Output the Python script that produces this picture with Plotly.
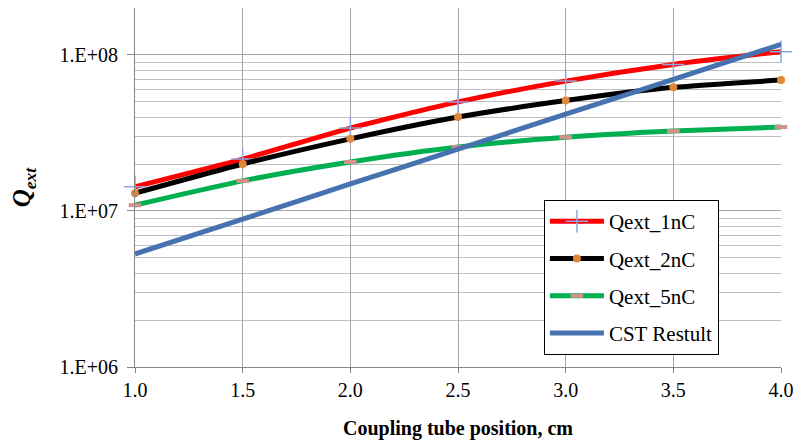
import plotly.graph_objects as go
import numpy as np

x = [1.0, 1.5, 2.0, 2.5, 3.0, 3.5, 4.0]
q1 = [1.43e7, 2.15e7, 3.4e7, 5.0e7, 6.8e7, 8.7e7, 1.05e8]
q2 = [1.3e7, 2.0e7, 2.9e7, 4.0e7, 5.1e7, 6.2e7, 6.9e7]
q5 = [1.09e7, 1.56e7, 2.06e7, 2.57e7, 2.97e7, 3.25e7, 3.45e7]
cst = [5.3e6, 8.87e6, 1.49e7, 2.49e7, 4.17e7, 6.98e7, 1.17e8]
names = ["Qext_1nC", "Qext_2nC", "Qext_5nC", "CST Restult"]
ytickvals = [1e6, 1e7, 1e8]
yticktext = ["1.E+06", "1.E+07", "1.E+08"]

FONT = "Liberation Serif, Times New Roman, serif"
fig = go.Figure()
fig.add_trace(go.Scatter(x=x, y=q1, name=names[0], mode="lines+markers",
                         line=dict(color="#FF0000", width=5, shape="spline", smoothing=0.6),
                         marker=dict(symbol="cross-thin", size=16, line=dict(color="#8EA9DB", width=1.5)),
                         cliponaxis=False, legendgroup="a"))
fig.add_trace(go.Scatter(x=x, y=q2, name=names[1], mode="lines+markers",
                         line=dict(color="#000000", width=5, shape="spline", smoothing=0.6),
                         marker=dict(symbol="circle", size=8, color="#E0883A"), cliponaxis=False, legendgroup="b"))
fig.add_trace(go.Scatter(x=x, y=q5, name=names[2], mode="lines+markers",
                         line=dict(color="#00B050", width=5, shape="spline", smoothing=0.6),
                         marker=dict(symbol="line-ew", size=9, line=dict(color="#D4908D", width=4)),
                         cliponaxis=False, legendgroup="c"))
fig.add_trace(go.Scatter(x=x, y=cst, name=names[3], mode="lines",
                         line=dict(color="#4672B0", width=5, shape="spline", smoothing=0.6),
                         cliponaxis=False, legendgroup="d"))

minor_vals = []
for d in [1e6, 1e7, 1e8]:
    for m in range(2, 10):
        v = m * d
        if v <= 2e8:
            minor_vals.append(v)

fig.update_layout(
    width=794, height=446,
    margin=dict(l=135, r=13, t=8, b=79, autoexpand=False),
    paper_bgcolor="white", plot_bgcolor="white",
    font=dict(family=FONT, size=20, color="black"),
    showlegend=True,
    legend=dict(x=0.633, y=0.465, xanchor="left", yanchor="top", bordercolor="black", borderwidth=1,
                bgcolor="white", font=dict(family=FONT, size=21), tracegroupgap=7, itemwidth=54),
)
fig.update_xaxes(range=[1, 4], dtick=0.5, tick0=1, tickformat=".1f", showgrid=True, gridcolor="#A6A6A6", gridwidth=1,
                 showline=True, linecolor="#868686", linewidth=1, ticks="outside", ticklen=5, tickcolor="#868686",
                 zeroline=False, tickfont=dict(size=20), automargin=False,
                 title=dict(text="<b>Coupling tube position, cm</b>", font=dict(size=20), standoff=20))
fig.update_yaxes(type="log", range=[6, np.log10(2e8)], tickvals=ytickvals, ticktext=yticktext, showgrid=True,
                 gridcolor="#A6A6A6", gridwidth=1, showline=True, linecolor="#868686", linewidth=1,
                 ticks="outside", ticklen=7, tickcolor="#868686", zeroline=False, tickfont=dict(size=20),
                 ticklabelstandoff=5, automargin=False,
                 minor=dict(tickvals=minor_vals, showgrid=True, gridcolor="#BFBFBF", gridwidth=1, ticks=""),
                 title=dict(text="<b><i>Q</i></b><sub><b><i>ext</i></b></sub>", font=dict(size=25), standoff=21))

fig.write_html("out.html", config={"displayModeBar": False},
               post_script="document.body.style.margin='0';document.body.style.overflow='hidden';")
